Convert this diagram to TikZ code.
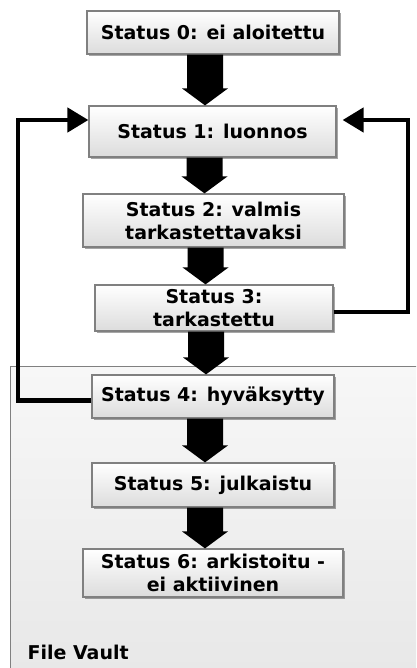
\documentclass[tikz,border=0pt]{standalone}
\usepackage{fontspec}
\setmainfont{DejaVu Sans}
\usetikzlibrary{arrows.meta,shadows,calc}

\definecolor{boxedge}{HTML}{808080}
\definecolor{boxtop}{HTML}{FFFFFF}
\definecolor{boxbottom}{HTML}{DCDCDC}
\definecolor{vaulttop}{HTML}{F7F7F7}
\definecolor{vaultbottom}{HTML}{E8E8E8}

\tikzset{
  statusbox/.style={draw=boxedge, line width=1.2pt, top color=boxtop, bottom color=boxbottom,
    align=center, inner sep=0pt, font=\fontsize{19}{23}\selectfont\bfseries,
    drop shadow={shadow xshift=2pt, shadow yshift=-2pt, opacity=0.35, fill=black}},
  vault/.style={draw=boxedge, line width=1pt, top color=vaulttop, bottom color=vaultbottom},
  looparrow/.style={line width=4.5pt, -{Triangle[length=21pt,width=24pt]}},
  arrowfill/.style={fill=black}
}

% thick block arrow from the bottom of one box to the top of the next
\newcommand\flowarrow[2]{%
  \fill[arrowfill] let \p1=(#1.south), \p2=(#2.north) in
    (\x1-26pt,\y1) -- (\x1+10pt,\y1) -- (\x1+10pt,\y2+17pt) -- (\x1+15pt,\y2+17pt)
    -- (\x1-8pt,\y2) -- (\x1-31pt,\y2+17pt) -- (\x1-26pt,\y2+17pt) -- cycle;}

\begin{document}
\begin{tikzpicture}[x=1pt,y=-1pt]
\useasboundingbox (0,0) rectangle (416,668);

% File Vault area
\begin{scope}
  \clip (0,0) rectangle (416,668);
  \draw[vault] (10,366) rectangle (420,672);
\end{scope}
\node[anchor=west, font=\fontsize{19}{21}\selectfont\bfseries] (fv) at (24,652) {File Vault};

% status boxes
\node[statusbox, minimum width=252, minimum height=43] (b0) at (213,32.5) {Status 0: ei aloitettu};
\node[statusbox, minimum width=247, minimum height=51] (b1) at (212.5,131.5) {Status 1: luonnos};
\node[statusbox, minimum width=261, minimum height=53] (b2) at (213.5,220.5) {Status 2: valmis\\tarkastettavaksi};
\node[statusbox, minimum width=238, minimum height=46] (b3) at (214,308) {Status 3:\\tarkastettu};
\node[statusbox, minimum width=242, minimum height=43] (b4) at (213,396.5) {Status 4: hyväksytty};
\node[statusbox, minimum width=242, minimum height=44] (b5) at (213,485) {Status 5: julkaistu};
\node[statusbox, minimum width=260, minimum height=48] (b6) at (213,573) {Status 6: arkistoitu -\\ei aktiivinen};

% forward flow
\flowarrow{b0}{b1}
\flowarrow{b1}{b2}
\flowarrow{b2}{b3}
\flowarrow{b3}{b4}
\flowarrow{b4}{b5}
\flowarrow{b5}{b6}

% return loops
\coordinate (lt) at (18,120);
\coordinate (rt) at (408,120);
\draw[looparrow] ([yshift=-4pt]b4.west) -| (lt) -- ([yshift=11.5pt]b1.west);
\draw[looparrow, shorten >=6pt] ([yshift=-4pt]b3.east) -| (rt) -- ([yshift=11.5pt]b1.east);
\end{tikzpicture}
\end{document}
